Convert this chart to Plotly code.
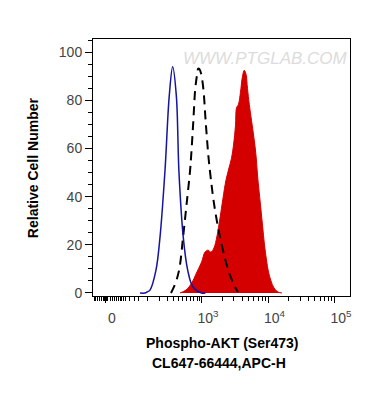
import plotly.graph_objects as go

# x positions are in display (decade) units of the biexponential axis: 10^3 -> 3, 10^4 -> 4, 10^5 -> 5
blue_x = [2.068, 2.143, 2.173, 2.218, 2.308, 2.368, 2.444, 2.508, 2.559, 2.614, 2.654, 2.719, 2.785, 2.865, 2.995, 3.05]
blue_y = [0, 0, 0.4, 1.2, 9.5, 23, 51, 82, 94.0, 82, 50, 23, 9.5, 2.5, 0, 0]

dash_x = [2.534, 2.571, 2.617, 2.662, 2.714, 2.767, 2.820, 2.838, 2.869, 2.898, 2.925, 2.944,
          2.962, 2.985, 3.020, 3.056, 3.095, 3.120, 3.180, 3.271, 3.395, 3.496, 3.541]
dash_y = [0, 2.1, 5.4, 10.4, 22.8, 36.5, 50.6, 57.3, 71, 84.6, 90.5, 93.2,
          93, 91.3, 85, 71, 57.3, 50.6, 37.3, 23.2, 9.5, 2.5, 0.4]

red_x = [2.669, 2.759, 2.845, 2.910, 2.995, 3.045, 3.090, 3.135, 3.180, 3.226, 3.271, 3.316, 3.361,
         3.406, 3.444, 3.474, 3.504, 3.519, 3.549, 3.579, 3.609, 3.636, 3.662, 3.684, 3.711, 3.744,
         3.782, 3.812, 3.835, 3.857, 3.880, 3.910, 3.940, 3.970, 4.000, 4.038, 4.083, 4.143, 4.203]
red_y = [0, 1.2, 4.1, 7.9, 12.9, 17.0, 17.8, 17.0, 18.7, 23.7, 31.1, 39.4, 46.9,
         51.9, 56, 61.4, 69.7, 76.8, 78.4, 83.4, 90, 92.5, 90.9, 85, 78.4, 71.8,
         64.3, 57.3, 49, 42.7, 36.5, 28.2, 19.9, 13.7, 8.7, 5, 2.1, 0.4, 0]

x_tick_vals = [1.556, 3, 4, 5]
x_tick_text = ["0", "10<sup>3</sup>", "10<sup>4</sup>", "10<sup>5</sup>"]
x_minor_low = [1.376, 1.406, 1.436, 1.466, 1.496, 1.526, 1.541, 1.571, 1.586, 1.617, 1.647, 1.677,
               1.707, 1.737, 1.767, 1.797, 1.827, 1.857, 1.917, 1.992, 2.038, 2.188, 2.368, 2.474,
               2.574, 2.644, 2.714, 2.774, 2.820, 2.872, 2.925, 2.962]
x_minor_log = [3.301, 3.477, 3.602, 3.699, 3.778, 3.845, 3.903, 3.954,
               4.301, 4.477, 4.602, 4.699, 4.778, 4.845, 4.903, 4.954]

y_tick_vals = [0, 20, 40, 60, 80, 100]

x_title = "Phospho-AKT (Ser473)"
y_title = "Relative Cell Number"
caption = "CL647-66444,APC-H"
watermark = "WWW.PTGLAB.COM"

FONT = "Liberation Sans, Arial, sans-serif"

fig = go.Figure()
fig.add_trace(go.Scatter(x=red_x, y=red_y, mode="lines", fill="tozeroy",
                         fillcolor="#d40000", line=dict(color="#d40000", width=1),
                         line_shape="spline", hoverinfo="skip"))
fig.add_trace(go.Scatter(x=dash_x, y=dash_y, mode="lines",
                         line=dict(color="black", width=2, dash="9px,6px"),
                         line_shape="spline", hoverinfo="skip"))
fig.add_trace(go.Scatter(x=blue_x, y=blue_y, mode="lines",
                         line=dict(color="#1414a0", width=1.5),
                         line_shape="spline", hoverinfo="skip"))

# page body has an 8px margin, so the figure is 8px smaller than the window
fig.update_layout(
    width=362, height=402,
    margin=dict(l=85, r=20, t=31, b=114, autoexpand=False),
    paper_bgcolor="white", plot_bgcolor="white",
    showlegend=False,
    font=dict(family=FONT, color="#333"),
)
fig.update_xaxes(
    range=[1.361, 5.226], showgrid=False, zeroline=False,
    showline=True, linecolor="black", linewidth=1, mirror=True,
    tickmode="array", tickvals=x_tick_vals, ticktext=x_tick_text,
    ticks="outside", ticklen=6, tickcolor="black", tickwidth=1,
    tickfont=dict(size=14, color="#444"), ticklabelshift=6, ticklabelstandoff=3,
    minor=dict(tickmode="array", tickvals=x_minor_low + x_minor_log,
               ticks="outside", ticklen=4, tickcolor="black", tickwidth=1),
)
fig.update_yaxes(
    range=[-1.25, 105.5], showgrid=False, zeroline=False,
    showline=True, linecolor="black", linewidth=1, mirror=True,
    tickmode="array", tickvals=y_tick_vals,
    ticks="outside", ticklen=7, tickcolor="black", tickwidth=1,
    tickfont=dict(size=14, color="#444"),
    minor=dict(tickmode="linear", dtick=5, tick0=0,
               ticks="outside", ticklen=4, tickcolor="black", tickwidth=1),
)

fig.add_annotation(text="<b>" + y_title + "</b>", xref="paper", yref="paper", x=-0.233, y=0.498,
                   textangle=-90, showarrow=False, xanchor="center", yanchor="middle",
                   font=dict(size=14, color="black", family=FONT))
fig.add_annotation(text="<b>" + x_title + "</b>", xref="paper", yref="paper", x=0.5, y=0,
                   yshift=-47, showarrow=False, xanchor="center", yanchor="middle",
                   font=dict(size=14, color="black", family=FONT))
fig.add_annotation(text="<b>" + caption + "</b>", xref="paper", yref="paper", x=0.49, y=0,
                   yshift=-67, showarrow=False, xanchor="center", yanchor="middle",
                   font=dict(size=14, color="black", family=FONT))
fig.add_annotation(text="<i>" + watermark + "</i>", xref="paper", yref="paper", x=0.673, y=0.926,
                   showarrow=False, xanchor="center", yanchor="middle",
                   font=dict(size=17, color="#dcdcdc", family=FONT))

fig.write_html("out.html")
